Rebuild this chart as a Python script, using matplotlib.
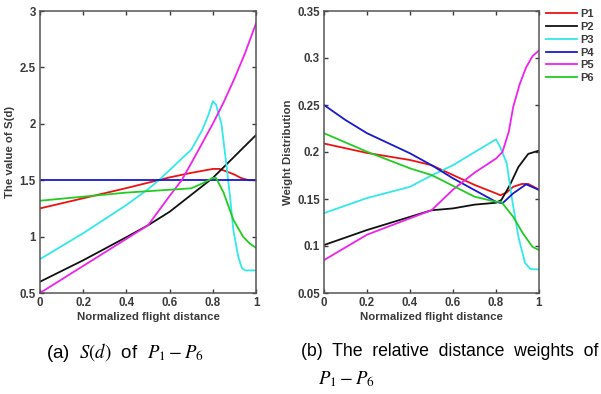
import matplotlib
matplotlib.use('Agg')
import matplotlib.pyplot as plt
from matplotlib.ticker import FuncFormatter

# ---- data ----
# (a) S(d) values
a_p1_x = [0, 0.2, 0.4, 0.6, 0.7, 0.8, 0.83, 0.86, 0.9, 0.93, 0.965, 1.0]
a_p1_y = [1.25, 1.34, 1.43, 1.525, 1.565, 1.6, 1.6, 1.58, 1.55, 1.52, 1.5, 1.5]

a_p2_x = [0, 0.2, 0.4, 0.5, 0.6, 0.7, 0.8, 0.9, 1.0]
a_p2_y = [0.6, 0.79, 0.995, 1.1, 1.22, 1.37, 1.52, 1.71, 1.9]

a_p3_x = [0, 0.2, 0.4, 0.5, 0.55, 0.6, 0.7, 0.75, 0.78, 0.8, 0.815, 0.84, 0.864,
          0.88, 0.895, 0.918, 0.935, 0.95, 1.0]
a_p3_y = [0.8, 1.03, 1.28, 1.42, 1.5, 1.59, 1.77, 1.94, 2.08, 2.2, 2.17, 2.0, 1.62,
          1.35, 1.06, 0.82, 0.72, 0.7, 0.7]

a_p4_x = [0, 1.0]
a_p4_y = [1.5, 1.5]

a_p5_x = [0, 0.2, 0.4, 0.5, 0.6, 0.656, 0.7, 0.8, 0.85, 0.9, 0.95, 1.0]
a_p5_y = [0.5, 0.74, 0.98, 1.1, 1.36, 1.5, 1.65, 2.0, 2.19, 2.4, 2.63, 2.89]

a_p6_x = [0, 0.4, 0.7, 0.75, 0.8, 0.815, 0.85, 0.895, 0.94, 0.97, 1.0]
a_p6_y = [1.318, 1.39, 1.428, 1.47, 1.52, 1.52, 1.39, 1.15, 1.0, 0.94, 0.9]

# (b) relative distance weights
b_p1_x = [0, 0.2, 0.4, 0.5, 0.6, 0.7, 0.8, 0.82, 0.85, 0.88, 0.92, 0.95, 1.0]
b_p1_y = [0.209, 0.199, 0.1915, 0.186, 0.1755, 0.165, 0.156, 0.154, 0.157, 0.163, 0.166, 0.166, 0.16]

b_p2_x = [0, 0.2, 0.4, 0.5, 0.6, 0.7, 0.8, 0.825, 0.865, 0.904, 0.95, 1.0]
b_p2_y = [0.101, 0.117, 0.131, 0.138, 0.14, 0.144, 0.146, 0.149, 0.165, 0.184, 0.198, 0.2015]

b_p3_x = [0, 0.2, 0.4, 0.5, 0.6, 0.8, 0.82, 0.85, 0.873, 0.904, 0.935, 0.96, 1.0]
b_p3_y = [0.135, 0.151, 0.163, 0.175, 0.186, 0.2135, 0.205, 0.188, 0.152, 0.11, 0.082, 0.0755, 0.075]

b_p4_x = [0, 0.1, 0.2, 0.4, 0.5, 0.6, 0.8, 0.83, 0.88, 0.94, 1.0]
b_p4_y = [0.25, 0.234, 0.22, 0.1986, 0.186, 0.172, 0.147, 0.1454, 0.156, 0.1656, 0.1596]

b_p5_x = [0, 0.2, 0.4, 0.5, 0.6, 0.7, 0.8, 0.83, 0.86, 0.88, 0.91, 0.94, 0.97, 1.0]
b_p5_y = [0.085, 0.112, 0.1295, 0.138, 0.16, 0.178, 0.193, 0.2, 0.222, 0.248, 0.272, 0.29, 0.302, 0.308]

b_p6_x = [0, 0.2, 0.4, 0.5, 0.6, 0.7, 0.8, 0.825, 0.88, 0.925, 0.97, 1.0]
b_p6_y = [0.22, 0.2003, 0.1826, 0.1755, 0.164, 0.1525, 0.147, 0.147, 0.131, 0.1135, 0.099, 0.0957]

labels = ['P1', 'P2', 'P3', 'P4', 'P5', 'P6']
colors = ['#ee1111', '#111111', '#33e8e8', '#1818d0', '#ee22ee', '#22cc22']

a_series = [(a_p1_x, a_p1_y), (a_p2_x, a_p2_y), (a_p3_x, a_p3_y),
            (a_p4_x, a_p4_y), (a_p5_x, a_p5_y), (a_p6_x, a_p6_y)]
b_series = [(b_p1_x, b_p1_y), (b_p2_x, b_p2_y), (b_p3_x, b_p3_y),
            (b_p4_x, b_p4_y), (b_p5_x, b_p5_y), (b_p6_x, b_p6_y)]

plt.rcParams['font.family'] = 'Liberation Sans'
plt.rcParams['mathtext.fontset'] = 'stix'

gray = '#3a3a3a'
fig = plt.figure(figsize=(6.01, 3.94), dpi=100)
ax1 = fig.add_axes([40 / 601, 101 / 394, 216 / 601, 282 / 394])
ax2 = fig.add_axes([324 / 601, 101 / 394, 215 / 601, 282 / 394])

fmt = FuncFormatter(lambda v, p: '%g' % round(v, 2))


def style(ax):
    ax.set_xlim(0, 1)
    ax.set_xticks([0, 0.2, 0.4, 0.6, 0.8, 1])
    ax.xaxis.set_major_formatter(fmt)
    ax.yaxis.set_major_formatter(fmt)
    ax.tick_params(direction='in', length=3, width=1, top=True, right=True,
                   labelsize=8.3, colors=gray, pad=3)
    for lab in ax.get_xticklabels() + ax.get_yticklabels():
        lab.set_fontweight('bold')
    for s in ax.spines.values():
        s.set_color('#555555')
        s.set_linewidth(1.1)
    ax.set_xlabel('Normalized flight distance', fontsize=8.2, fontweight='bold',
                  color=gray, labelpad=2)


for (x, y), c, lab in zip(a_series, colors, labels):
    ax1.plot(x, y, color=c, lw=1.3, label=lab)
ax1.set_ylim(0.5, 3)
ax1.set_yticks([0.5, 1, 1.5, 2, 2.5, 3])
style(ax1)
ax1.set_ylabel('The value of S(d)', fontsize=8.2, fontweight='bold', color=gray, labelpad=3)

for (x, y), c, lab in zip(b_series, colors, labels):
    ax2.plot(x, y, color=c, lw=1.3, label=lab)
ax2.set_ylim(0.05, 0.35)
ax2.set_yticks([0.05, 0.1, 0.15, 0.2, 0.25, 0.3, 0.35])
style(ax2)
ax2.set_ylabel('Weight Distribution', fontsize=8.2, fontweight='bold', color=gray, labelpad=3)

leg = ax2.legend(loc='upper left', bbox_to_anchor=(1.0, 1.03), frameon=False,
                 fontsize=8, handlelength=2.8, handletextpad=0.3,
                 labelspacing=0.25, borderaxespad=0.2)
for t in leg.get_texts():
    t.set_fontweight('bold')
    t.set_color(gray)

# captions
fig.text(46 / 601, 1 - 352 / 394,
         r'(a)  $S\left(d\right)$  of  $P_1 - P_6$',
         ha='left', va='center', fontsize=13.5)
fig.text(598 / 601, 1 - 352 / 394, '(b)  The  relative  distance  weights  of',
         ha='right', va='center', fontsize=12.7)
fig.text(318 / 601, 1 - 379 / 394, r'$P_1 - P_6$', ha='left', va='center', fontsize=13.5)

fig.savefig('out.png', dpi=100)
